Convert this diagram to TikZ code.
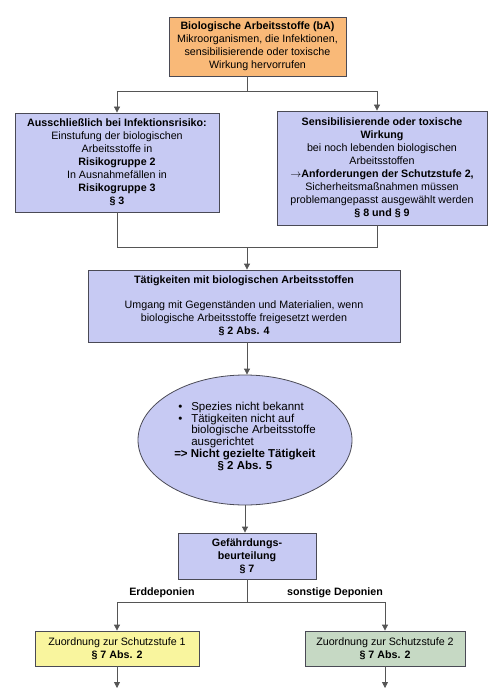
\documentclass[tikz,border=0pt]{standalone}
\usepackage{fontspec}
\setmainfont{Liberation Sans}
\usetikzlibrary{arrows.meta}
\usepgflibrary{shapes.geometric}
\definecolor{orangefill}{HTML}{F9B978}
\definecolor{lavfill}{HTML}{C7CAF3}
\definecolor{yellowfill}{HTML}{F9F59E}
\definecolor{greenfill}{HTML}{C6D9C4}
\definecolor{framegray}{HTML}{4A4A55}
\definecolor{linegray}{HTML}{555555}

\begin{document}
\begin{tikzpicture}[x=1pt, y=-1pt,
    box/.style={draw=framegray, line width=0.8pt, align=center, inner sep=1pt,
      font=\fontsize{10.7}{13}\selectfont},
    flowline/.style={draw=linegray, line width=0.8pt},
    flowarrow/.style={flowline, -{Triangle[width=6pt,length=6pt]}},
    branchlabel/.style={font=\fontsize{10.7}{13}\selectfont\bfseries, inner sep=0pt}]

  \useasboundingbox (0,0) rectangle (500,698);

  % boxes
  \node[box, fill=orangefill, minimum width=177, minimum height=59] (top) at (257.5,46.5)
    {\textbf{Biologische Arbeitsstoffe (bA)}\\Mikroorganismen, die Infektionen,\\sensibilisierende oder toxische\\Wirkung hervorrufen};
  \node[box, fill=lavfill, minimum width=204, minimum height=99] (left) at (117,162.5)
    {\textbf{Ausschließlich bei Infektionsrisiko:}\\Einstufung der biologischen\\Arbeitsstoffe in\\\textbf{Risikogruppe 2}\\In Ausnahmefällen in\\\textbf{Risikogruppe 3}\\\textbf{§ 3}};
  \node[box, fill=lavfill, minimum width=210, minimum height=114] (right) at (382,168)
    {\textbf{Sensibilisierende oder toxische}\\\textbf{Wirkung}\\bei noch lebenden biologischen\\Arbeitsstoffen\\$\rightarrow$\textbf{Anforderungen der Schutzstufe 2,}\\Sicherheitsmaßnahmen müssen\\problemangepasst ausgewählt werden\\\textbf{§ 8 und § 9}};
  \node[box, fill=lavfill, minimum width=312, minimum height=72] (mid) at (244,306)
    {\textbf{Tätigkeiten mit biologischen Arbeitsstoffen}\\[12pt]Umgang mit Gegenständen und Materialien, wenn\\biologische Arbeitsstoffe freigesetzt werden\\\textbf{§ 2 Abs. 4}};
  \node[box, ellipse, fill=lavfill, inner sep=0pt, minimum width=214, minimum height=130,
        font=\fontsize{11.5}{13}\selectfont] (ell) at (245,440)
    {\renewcommand{\arraystretch}{0.9}%
     \begin{tabular}{@{}l@{\hspace{9pt}}l@{}}
       \hspace{4pt}\textbullet & Spezies nicht bekannt\\
       \hspace{4pt}\textbullet & Tätigkeiten nicht auf\\
       & biologische Arbeitsstoffe\\
       & ausgerichtet\\
       \multicolumn{2}{@{}l@{}}{\textbf{=> Nicht gezielte Tätigkeit}}\\
       \multicolumn{2}{@{}c@{}}{\textbf{§ 2 Abs. 5}}
     \end{tabular}\\[4pt]};
  \node[box, fill=lavfill, minimum width=138, minimum height=46] (gef) at (247,556)
    {\textbf{Gefährdungs-}\\\textbf{beurteilung}\\\textbf{§ 7}};
  \node[box, fill=yellowfill, minimum width=164, minimum height=35] (zs1) at (117,648.5)
    {Zuordnung zur Schutzstufe 1\\\textbf{§ 7 Abs. 2}};
  \node[box, fill=greenfill, minimum width=160, minimum height=35] (zs2) at (385,648.5)
    {Zuordnung zur Schutzstufe 2\\\textbf{§ 7 Abs. 2}};

  % connectors
  \coordinate (split1) at (247,91);
  \coordinate (join1) at (247,247);
  \coordinate (split2) at (247,602);
  \coordinate (end1) at (117,688);
  \coordinate (end2) at (385,688);

  \draw[flowline] (split1 |- top.south) -- (split1);
  \draw[flowarrow] (split1) -| (left.north);
  \draw[flowarrow] (split1) -| ([xshift=-5pt]right.north);

  \draw[flowline] (left.south) |- (join1);
  \draw[flowline] ([xshift=-5pt]right.south) |- (join1);
  \draw[flowarrow] (join1) -- (join1 |- mid.north);

  \draw[flowarrow] (join1 |- mid.south) -- (join1 |- ell.north);
  \draw[flowarrow] (ell.south) -- (ell.south |- gef.north);

  \draw[flowline] (gef.south) -- (split2);
  \draw[flowarrow] (split2) -| (zs1.north);
  \draw[flowarrow] (split2) -| (zs2.north);
  \node[branchlabel] (erd) at (162,593) {Erddeponien};
  \node[branchlabel] (sonst) at (335,593) {sonstige Deponien};

  \draw[flowarrow] (zs1.south) -- (end1);
  \draw[flowarrow] (zs2.south) -- (end2);
\end{tikzpicture}
\end{document}
